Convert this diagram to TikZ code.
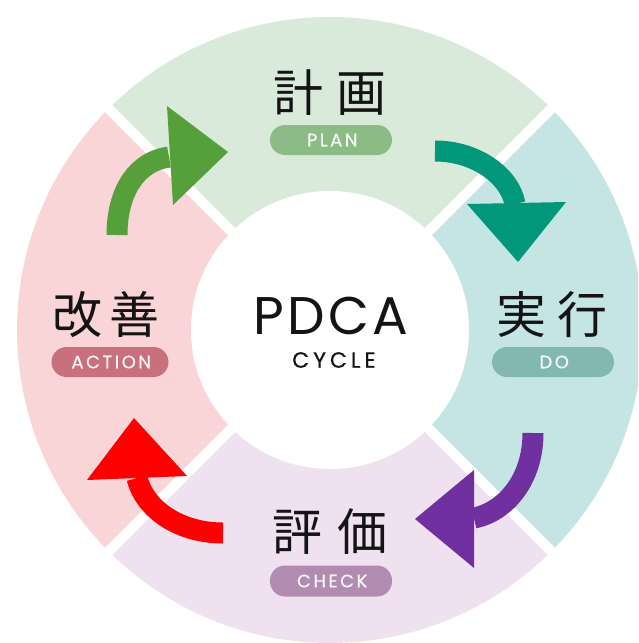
\documentclass[tikz,border=0pt]{standalone}
\usepackage{fontspec}
\setmainfont{Poppins}
\newfontfamily\jpfont{Noto Sans CJK JP}
\newfontfamily\latfont{Poppins}
\definecolor{ringG}{HTML}{D9EADB}
\definecolor{ringT}{HTML}{C5E5E5}
\definecolor{ringP}{HTML}{EFE1F0}
\definecolor{ringR}{HTML}{FAD5D8}
\definecolor{pillG}{HTML}{8CBC85}
\definecolor{pillT}{HTML}{83B8B2}
\definecolor{pillP}{HTML}{B28CB0}
\definecolor{pillR}{HTML}{C8707C}
\definecolor{arrG}{HTML}{55A03A}
\definecolor{arrT}{HTML}{00977A}
\definecolor{arrP}{HTML}{7030A0}
\definecolor{arrR}{HTML}{FF0000}
\definecolor{ink}{HTML}{141414}
\tikzset{
  jp/.style={font=\jpfont\fontsize{50}{52}\selectfont, text=ink, inner sep=0pt},
  pill/.style={draw=none, rounded corners=15pt, minimum width=122pt, minimum height=30pt,
    inner sep=0pt, font=\latfont\fontsize{18}{20}\selectfont\addfontfeature{LetterSpace=14,FakeBold=0.6}},
  shaft/.style={line width=21pt},
  gapline/.style={white, line width=10pt},
}
\begin{document}
\begin{tikzpicture}[x=1pt, y=-1pt]
\useasboundingbox (0,0) rectangle (638,643);
\clip (0,0) rectangle (638,643);
\coordinate (c) at (330,330);
% ring sectors
\fill[ringG] (c) -- ++(225:313) arc[start angle=225, end angle=315, radius=313] -- cycle;
\fill[ringT] (c) -- ++(-45:313) arc[start angle=-45, end angle=45, radius=313] -- cycle;
\fill[ringP] (c) -- ++(45:313) arc[start angle=45, end angle=135, radius=313] -- cycle;
\fill[ringR] (c) -- ++(135:313) arc[start angle=135, end angle=225, radius=313] -- cycle;
% gaps
\draw[gapline] (c) -- ++(45:400);
\draw[gapline] (c) -- ++(135:400);
\draw[gapline] (c) -- ++(225:400);
\draw[gapline] (c) -- ++(315:400);
% inner circle
\fill[white] (c) circle[radius=139];
% center text
\node[font=\latfont\fontsize{53}{55}\selectfont\addfontfeature{LetterSpace=6}, text=ink, inner sep=0pt] (pdca) at (331,316) {PDCA};
\node[font=\latfont\fontsize{22}{24}\selectfont\addfontfeature{LetterSpace=18,FakeBold=0.5}, text=ink, inner sep=0pt] (cycle) at (332,360) {\hspace*{4pt}CYCLE};
% labels
\node[jp] (plan) at (330,93) {計\hspace{13pt}画};
\node[pill, fill=pillG, text=white!92!pillG] (planpill) at (331,140) {\hspace*{2.5pt}PLAN};
\node[jp] (do) at (552,315) {実\hspace{11pt}行};
\node[pill, fill=pillT, text=white!92!pillT] (dopill) at (553,362) {\hspace*{2.5pt}DO};
\node[jp] (check) at (330,532) {評\hspace{15pt}価};
\node[pill, fill=pillP, text=white!92!pillP, minimum height=31pt] (checkpill) at (331,581) {\hspace*{2.5pt}CHECK};
\node[jp] (act) at (106,315) {改\hspace{7pt}善};
\node[pill, fill=pillR, text=white!92!pillR, minimum width=117pt] (actpill) at (110,362) {\hspace*{2.5pt}ACTION};
% arrows: green (A -> P)
\coordinate (gs) at (117,235);
\coordinate (ge) at (169,157);
\draw[shaft, arrG] (gs) .. controls (117,190) and (138,161) .. (ge);
\fill[arrG] (167,106) -- (228,152) -- (173,205) -- cycle;
% teal (P -> D)
\coordinate (ts) at (435,151);
\coordinate (te) at (515,204);
\draw[shaft, arrT] (ts) .. controls (476,151) and (510,176) .. (te);
\fill[arrT] (467,204) -- (566,202) -- (518,262) -- cycle;
% purple (D -> C)
\coordinate (ps) at (533,433);
\coordinate (pe) at (474,518);
\draw[shaft, arrP] (ps) .. controls (533,480) and (505,512) .. (pe);
\fill[arrP] (474,470) -- (415,519) -- (474,568) -- cycle;
% red (C -> A)
\coordinate (rs) at (223,533);
\coordinate (re) at (137,478);
\draw[shaft, arrR] (rs) .. controls (180,533) and (145,510) .. (re);
\fill[arrR] (134,418) -- (87,480) -- (187,476) -- cycle;
\end{tikzpicture}
\end{document}
